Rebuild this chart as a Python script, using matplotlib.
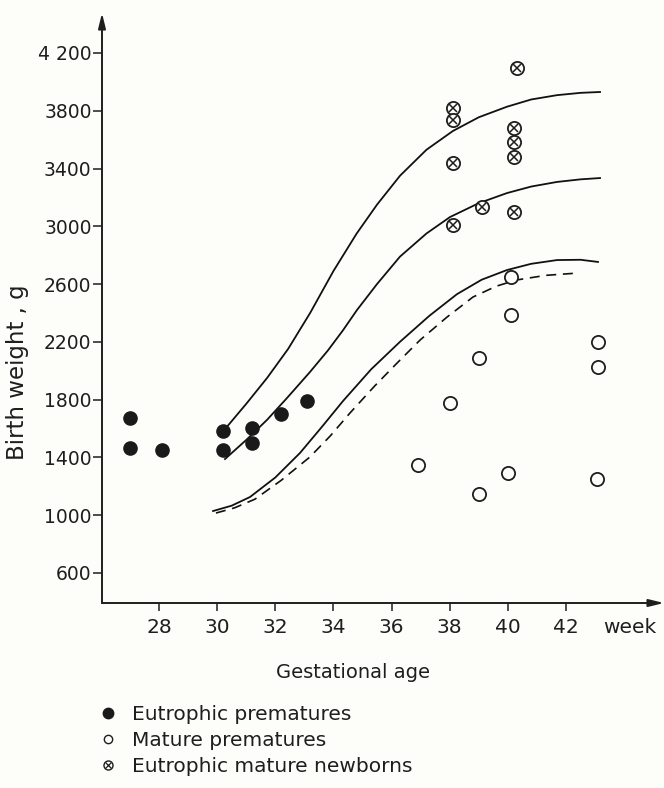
import matplotlib
matplotlib.use("Agg")
import matplotlib.pyplot as plt
from matplotlib.lines import Line2D
from matplotlib.legend_handler import HandlerTuple

plt.rcParams['font.family'] = ['DejaVu Sans']

# ---- data ----
eu_pre_x = [27.0, 27.0, 28.1, 30.2, 30.2, 31.2, 31.2, 32.2, 33.1]
eu_pre_y = [1669, 1467, 1453, 1585, 1453, 1606, 1502, 1697, 1787]

mat_pre_x = [36.9, 38.0, 39.0, 39.0, 40.1, 40.0, 40.1, 43.1, 43.1, 43.05]
mat_pre_y = [1349, 1773, 2086, 1147, 2385, 1293, 2649, 2197, 2023, 1251]

eu_mat_x = [40.3, 38.1, 38.1, 40.2, 40.2, 40.2, 38.1, 39.1, 38.1, 40.2]
eu_mat_y = [4096, 3818, 3734, 3678, 3581, 3477, 3435, 3136, 3011, 3101]

top_x = [30.34, 31.0, 31.72, 32.44, 33.2, 34.0, 34.8, 35.5, 36.29, 37.2, 38.11, 39.0, 39.97, 40.8, 41.69, 42.5, 43.17]
top_y = [1612, 1770, 1950, 2150, 2400, 2690, 2950, 3150, 3350, 3530, 3660, 3755, 3828, 3878, 3908, 3924, 3930]

mid_x = [30.27, 31.0, 31.72, 32.4, 33.19, 33.81, 34.33, 34.81, 35.5, 36.29, 37.2, 38.01, 39.0, 39.97, 40.8, 41.69, 42.5, 43.17]
mid_y = [1388, 1520, 1660, 1810, 1990, 2140, 2280, 2420, 2600, 2790, 2950, 3064, 3160, 3230, 3275, 3307, 3325, 3334]

low_x = [29.86, 30.5, 31.13, 32.0, 32.85, 33.6, 34.33, 35.3, 36.29, 37.3, 38.25, 39.1, 39.97, 40.8, 41.69, 42.5, 43.1]
low_y = [1028, 1065, 1125, 1260, 1430, 1610, 1790, 2010, 2200, 2380, 2530, 2630, 2697, 2740, 2766, 2768, 2753]

dash_x = [29.96, 30.6, 31.3, 32.2, 33.19, 33.9, 34.57, 35.4, 36.19, 36.98, 37.9, 38.8, 39.6, 40.3, 41.3, 42.4]
dash_y = [1014, 1050, 1110, 1240, 1402, 1550, 1707, 1890, 2053, 2212, 2370, 2510, 2585, 2628, 2660, 2676]

y_ticks = [600, 1000, 1400, 1800, 2200, 2600, 3000, 3400, 3800, 4200]
y_labels = ['600', '1000', '1400', '1800', '2200', '2600', '3000', '3400', '3800', '4 200']
x_ticks = [28, 30, 32, 34, 36, 38, 40, 42]
x_labels = ['28', '30', '32', '34', '36', '38', '40', '42']
x_unit = 'week'

series_labels = ['Eutrophic prematures', 'Mature prematures', 'Eutrophic mature newborns']

# ---- figure ----
W, H = 664, 788
bg = '#fdfdfa'
ink = '#1e1e1e'
fig = plt.figure(figsize=(W / 100, H / 100), dpi=100, facecolor=bg)
ax = fig.add_axes([102 / W, (H - 603) / H, (W - 102) / W, (603 - 13) / H])
ax.set_facecolor(bg)
ax.set_xlim(26.04, 45.37)
ax.set_ylim(391, 4477)
for s in ax.spines.values():
    s.set_visible(False)

# axes with arrows
arrow_kw = dict(arrowstyle='-|>,head_length=0.9,head_width=0.22', color=ink, lw=1.4,
                shrinkA=0, shrinkB=0)
ax.annotate('', xy=(0, 1), xytext=(0, 0), xycoords='axes fraction',
            textcoords='axes fraction', arrowprops=arrow_kw, annotation_clip=False)
ax.annotate('', xy=(1, 0), xytext=(0, 0), xycoords='axes fraction',
            textcoords='axes fraction', arrowprops=arrow_kw, annotation_clip=False)

ax.set_yticks(y_ticks)
ax.set_yticklabels(y_labels)
ax.set_xticks(x_ticks + [44.2])
ax.set_xticklabels(x_labels + [x_unit])
ax.xaxis.get_major_ticks()[-1].tick1line.set_visible(False)
ax.tick_params(axis='y', direction='out', length=6.5, width=1.1, pad=1, labelsize=13.5,
               colors=ink)
ax.tick_params(axis='x', direction='out', length=6, width=1.1, pad=5, labelsize=14.5,
               colors=ink)

ax.set_ylabel('Birth weight , g', fontsize=16.5, color=ink)
ax.yaxis.set_label_coords(-(102 - 18) / (W - 102), (603 - 372) / (603 - 13))
ax.yaxis.label.set_va('center')
ax.set_xlabel('Gestational age', fontsize=14, color=ink)
ax.xaxis.set_label_coords((353 - 102) / (W - 102), -(672 - 603) / (603 - 13))
ax.xaxis.label.set_va('center')

# curves
lc = '#111111'
ax.plot(top_x, top_y, color=lc, lw=1.3)
ax.plot(mid_x, mid_y, color=lc, lw=1.3)
ax.plot(low_x, low_y, color=lc, lw=1.3)
ax.plot(dash_x, dash_y, color=lc, lw=1.2, ls=(0, (6, 4)))

ms = 9.5
ax.plot(eu_pre_x, eu_pre_y, 'o', ms=ms, color='#1a1a1a', mec='#1a1a1a', ls='none')
ax.plot(mat_pre_x, mat_pre_y, 'o', ms=ms, mfc=bg, mec=ink, mew=1.3, ls='none')
ax.plot(eu_mat_x, eu_mat_y, 'o', ms=ms, mfc=bg, mec=ink, mew=1.3, ls='none')
ax.plot(eu_mat_x, eu_mat_y, 'x', ms=5.5, mec=ink, mew=1.1, ls='none')

# legend
h1 = Line2D([], [], marker='o', ms=7.5, color='#1a1a1a', ls='none')
h2 = Line2D([], [], marker='o', ms=6, mfc=bg, mec=ink, mew=1.0, ls='none')
h3a = Line2D([], [], marker='o', ms=6.5, mfc=bg, mec=ink, mew=1.0, ls='none')
h3b = Line2D([], [], marker='x', ms=3.8, mec=ink, mew=0.9, ls='none')
leg = fig.legend([h1, h2, (h3a, h3b)], series_labels,
                 handler_map={tuple: HandlerTuple(ndivide=1, pad=0)},
                 loc='upper left', bbox_to_anchor=(100 / W, (H - 705) / H),
                 frameon=False, fontsize=14.5, handlelength=0.8, handletextpad=0.8,
                 labelspacing=0.36, borderpad=0, borderaxespad=0)
for t in leg.get_texts():
    t.set_color(ink)

fig.savefig('out.png', dpi=100, facecolor=bg)
